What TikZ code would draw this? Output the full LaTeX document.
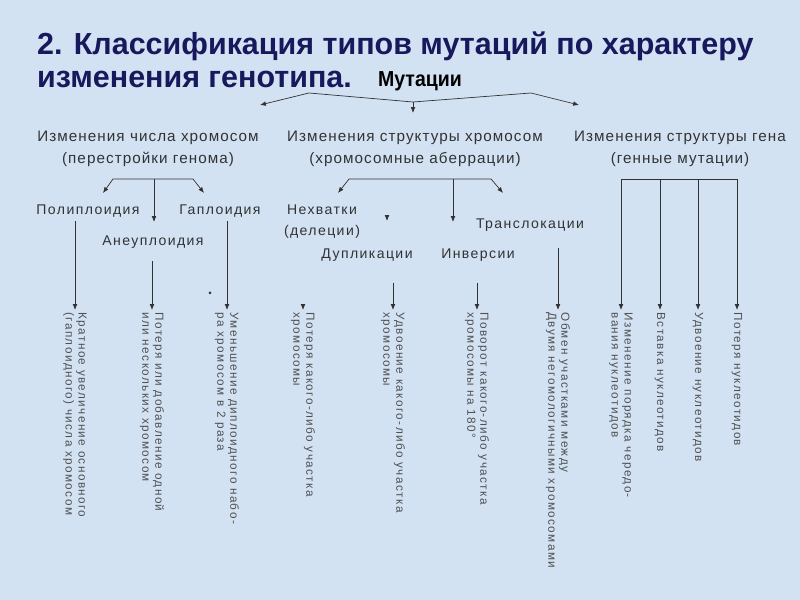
\documentclass[tikz,border=0pt]{standalone}
\usepackage{fontspec}
\setmainfont{Liberation Sans}
\newfontfamily\narrowfont[FakeStretch=0.9]{Liberation Sans}
\usetikzlibrary{arrows.meta}
\definecolor{bgblue}{RGB}{211,226,243}
\definecolor{titleblue}{RGB}{24,24,92}
\definecolor{inkgray}{RGB}{50,50,50}
\definecolor{leafgray}{RGB}{80,80,80}
\tikzset{
    heading/.style={anchor=north west, align=left, inner sep=0pt, text=titleblue, font=\fontsize{26}{27.5}\selectfont\bfseries},
    root/.style={inner sep=1pt, font=\narrowfont\fontsize{18.5}{20}\selectfont\bfseries},
    group/.style={align=center, inner sep=1pt, text=inkgray, font=\fontsize{13}{18.5}\selectfont\addfontfeature{LetterSpace=7}},
    kind/.style={align=center, inner sep=3pt, text=inkgray, font=\fontsize{12}{18}\selectfont\addfontfeature{LetterSpace=10}},
    leaf/.style={rotate=-90, anchor=west, align=left, inner sep=2pt, text=leafgray, font=\fontsize{10}{11}\selectfont\addfontfeature{LetterSpace=12}},
    link/.style={draw=inkgray, line width=0.6pt},
    arrow/.style={link, -{Latex[length=5pt,width=4pt]}}
}
\begin{document}
\begin{tikzpicture}[x=0.03cm, y=-0.03cm]
    \fill[bgblue] (0,0) rectangle (800,600);
    \useasboundingbox (0,0) rectangle (800,600);

    \node (head) [heading] at (37,32) {2. Классификация типов мутаций по характеру\\изменения генотипа.};
    \node (mut) [root] at (420,81) {Мутации};

    % first level
    \node (numchange) [group] at (148,149) {Изменения числа хромосом\\(перестройки генома)};
    \node (structchange) [group] at (415,149) {Изменения структуры хромосом\\(хромосомные аберрации)};
    \node (genechange) [group] at (680,149) {Изменения структуры гена\\(генные мутации)};

    \coordinate (mutsplit) at (413,102);
    \draw [arrow] (mutsplit) -- (309,93) -- (260,105);
    \draw [arrow] (mutsplit) -- (531,93) -- (579,105);
    \draw [arrow] (mutsplit) -- (413,113);

    % second level
    \node (poly) [kind] at (88,211) {Полиплоидия};
    \node (haplo) [kind] at (220,211) {Гаплоидия};
    \node (aneu) [kind] at (153,242) {Анеуплоидия};
    \node (deletion) [kind] at (322,222) {Нехватки\\(делеции)};
    \node (duplic) [kind] at (367,255) {Дупликации};
    \node (invers) [kind] at (478,255) {Инверсии};
    \node (transloc) [kind] at (530,225) {Транслокации};

    \coordinate (numsplit) at (154,179);
    \draw [arrow] (numsplit) -- ++(-41,0) -- ++(-10,14);
    \draw [arrow] (numsplit) -- ++(39,0) -- ++(11,14);
    \draw [arrow] (numsplit) -- ++(0,43);

    \coordinate (structsplit) at (453,179);
    \draw [arrow] (structsplit) -- ++(-104,0) -- ++(-11,14);
    \draw [arrow] (structsplit) -- ++(38,0) -- ++(12,14);
    \draw [arrow] (structsplit) -- ++(0,43);
    \coordinate (duptip) at (387,221);
    \draw [arrow] ([yshift=5pt]duptip) -- (duptip);

    \coordinate (genebar) at (680,179);

    % leaves
    \node (kratn) [leaf] at (75,310) {Кратное увеличение основного\\(гаплоидного) числа хромосом};
    \node (aneuleaf) [leaf] at (152,310) {Потеря или добавление одной\\или нескольких хромосом};
    \node (haploleaf) [leaf] at (227,310) {Уменьшение диплоидного набо-\\ра хромосом в 2 раза};
    \node (delleaf) [leaf] at (303,310) {Потеря какого-либо участка\\хромосомы};
    \node (dupleaf) [leaf] at (393,310) {Удвоение какого-либо участка\\хромосомы};
    \node (invleaf) [leaf] at (477,310) {Поворот какого-либо участка\\хромосомы на 180°};
    \node (transleaf) [leaf] at (558,310) {Обмен участками между\\Двумя негомологичными хромосомами};
    \node (orderleaf) [leaf] at (621,310) {Изменение порядка чередо-\\вания нуклеотидов};
    \node (insleaf) [leaf] at (660,310) {Вставка нуклеотидов};
    \node (gdupleaf) [leaf] at (698,310) {Удвоение нуклеотидов};
    \node (lossleaf) [leaf] at (737,310) {Потеря нуклеотидов};

    \draw [arrow] (kratn.west |- poly.south) -- (kratn.west);
    \draw [arrow, shorten <=8pt] (aneuleaf.west |- aneu.south) -- (aneuleaf.west);
    \draw [arrow] (haploleaf.west |- haplo.south) -- (haploleaf.west);
    \fill [inkgray] (210,293) circle (1.5);
    \draw [arrow] ([yshift=5pt]delleaf.west) -- (delleaf.west);
    \draw [arrow, shorten <=15pt] (dupleaf.west |- duplic.south) -- (dupleaf.west);
    \draw [arrow, shorten <=15pt] (invleaf.west |- invers.south) -- (invleaf.west);
    \draw [arrow, shorten <=11pt] (transleaf.west |- transloc.south) -- (transleaf.west);

    \draw [link] (orderleaf.west |- genebar) -- (lossleaf.west |- genebar);
    \foreach \leaf in {orderleaf, insleaf, gdupleaf, lossleaf}
        \draw [arrow] (\leaf.west |- genebar) -- (\leaf.west);
\end{tikzpicture}
\end{document}
